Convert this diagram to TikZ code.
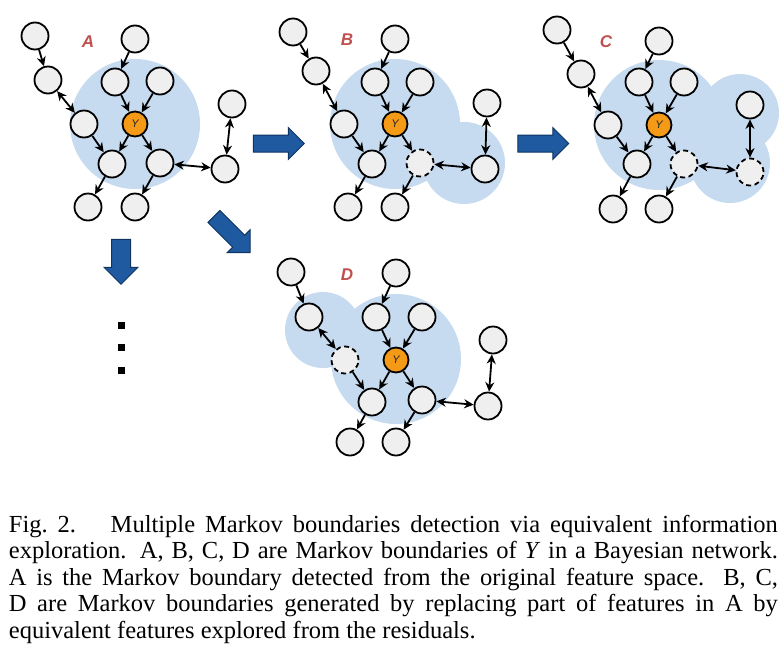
\documentclass[tikz,border=0pt]{standalone}
\usepackage{fontspec}
\setmainfont{Liberation Serif}
\newfontfamily\labelsans{Liberation Sans}
\usetikzlibrary{positioning,arrows.meta,shapes.arrows}

\definecolor{blanketblue}{HTML}{C6DBF0}
\definecolor{featgray}{HTML}{EFEFEF}
\definecolor{targetorange}{HTML}{F59A16}
\definecolor{labelred}{HTML}{C0504D}
\definecolor{arrowblue}{HTML}{1F5AA0}
\definecolor{arrowedge}{HTML}{0E3562}

\begin{document}
\begin{tikzpicture}[x=1pt,y=-1pt,on grid,line width=1.8pt,
  >={Stealth[length=9.5pt,width=9pt]},
  feat/.style={circle,draw,fill=featgray,line width=1.8pt,minimum size=27pt,inner sep=0pt},
  featgone/.style={feat,dash pattern=on 5pt off 3.5pt},
  target/.style={circle,draw,fill=targetorange,line width=1.8pt,minimum size=25pt,inner sep=0pt,
    font=\fontsize{11}{11}\labelsans\itshape,text=black!85},
  mblabel/.style={text=labelred,font=\fontsize{17}{17}\labelsans\bfseries\itshape},
  blanket/.style={fill=blanketblue},
  bigarrow/.style={single arrow,draw=arrowedge,fill=arrowblue,line width=1pt,
    inner xsep=0pt,inner ysep=8pt,single arrow head extend=7.5pt,minimum height=51pt},
  dotmark/.style={fill=black,minimum size=7pt,inner sep=0pt},
  figcap/.style={text width=769pt,align=justify,inner sep=0pt,
    font=\fontsize{24.5}{26.5}\selectfont}]
 \useasboundingbox (0,0) rectangle (784,651);

 % Markov blankets
 \fill[blanket] (135,124) circle[radius=65pt];
 \fill[blanket] (395,124) circle[radius=65pt];
 \fill[blanket] (464,163) circle[radius=41pt];
 \fill[blanket] (659,125) circle[radius=65pt];
 \fill[blanket] (740,113) circle[radius=39pt];
 \fill[blanket] (730,163) circle[radius=40pt];
 \fill[blanket] (396,359) circle[radius=65pt];
 \fill[blanket] (323,330) circle[radius=38pt];

 % network A
 \node[target] (yA) at (135,124) {Y};
 \node[feat, above left=88pt and 100pt of yA] (a1) {};
 \node[feat, above left=44pt and 87pt of yA] (a2) {};
 \node[feat, above=85pt of yA] (a3) {};
 \node[feat, above left=42pt and 20pt of yA] (a4) {};
 \node[feat, above right=43pt and 25pt of yA] (a5) {};
 \node[feat, left=51pt of yA] (a6) {};
 \node[feat, below left=40pt and 23pt of yA] (a7) {};
 \node[feat, below right=39pt and 25pt of yA] (a8) {};
 \node[feat, below left=83pt and 47pt of yA] (a9) {};
 \node[feat, below=83pt of yA] (a10) {};
 \node[feat, above right=20pt and 97pt of yA] (a11) {};
 \node[feat, below right=45pt and 90pt of yA] (a12) {};
 \node[mblabel, above left=82pt and 47pt of yA] (labA) {A};
 \path (a1) edge[->] (a2) (a2) edge[<->] (a6)
  (a3) edge[->] (a4) (a4) edge[->] (yA) (a5) edge[->] (yA)
  (a6) edge[->] (a7) (yA) edge[->] (a7) (yA) edge[->] (a8)
  (a7) edge[->] (a9) (a8) edge[->] (a10)
  (a8) edge[<->] (a12) (a12) edge[<->] (a11);

 % network B
 \node[target] (yB) at (395,124) {Y};
 \node[feat, above left=92pt and 102pt of yB] (b1) {};
 \node[feat, above left=53pt and 79pt of yB] (b2) {};
 \node[feat, above=85pt of yB] (b3) {};
 \node[feat, above left=42pt and 20pt of yB] (b4) {};
 \node[feat, above right=42pt and 25pt of yB] (b5) {};
 \node[feat, left=51pt of yB] (b6) {};
 \node[feat, below left=40pt and 23pt of yB] (b7) {};
 \node[featgone, below right=39pt and 25pt of yB] (b8) {};
 \node[feat, below left=83pt and 47pt of yB] (b9) {};
 \node[feat, below=83pt of yB] (b10) {};
 \node[feat, above right=21pt and 92pt of yB] (b11) {};
 \node[feat, below right=45pt and 90pt of yB] (b12) {};
 \node[mblabel, above left=84pt and 48pt of yB] (labB) {B};
 \path (b1) edge[->] (b2) (b2) edge[<->] (b6)
  (b3) edge[->] (b4) (b4) edge[->] (yB) (b5) edge[->] (yB)
  (b6) edge[->] (b7) (yB) edge[->] (b7) (yB) edge[->] (b8)
  (b7) edge[->] (b9) (b8) edge[->] (b10)
  (b8) edge[<->] (b12) (b12) edge[<->] (b11);

 % network C
 \node[target] (yC) at (659,125) {Y};
 \node[feat, above left=95pt and 102pt of yC] (c1) {};
 \node[feat, above left=51pt and 78pt of yC] (c2) {};
 \node[feat, above=84pt of yC] (c3) {};
 \node[feat, above left=43pt and 20pt of yC] (c4) {};
 \node[feat, above right=43pt and 25pt of yC] (c5) {};
 \node[feat, left=51pt of yC] (c6) {};
 \node[feat, below left=39pt and 22pt of yC] (c7) {};
 \node[featgone, below right=39pt and 25pt of yC] (c8) {};
 \node[feat, below left=84pt and 46pt of yC] (c9) {};
 \node[feat, below=84pt of yC] (c10) {};
 \node[feat, above right=20pt and 91pt of yC] (c11) {};
 \node[featgone, below right=47pt and 91pt of yC] (c12) {};
 \node[mblabel, above left=83pt and 53pt of yC] (labC) {C};
 \path (c1) edge[->] (c2) (c2) edge[<->] (c6)
  (c3) edge[->] (c4) (c4) edge[->] (yC) (c5) edge[->] (yC)
  (c6) edge[->] (c7) (yC) edge[->] (c7) (yC) edge[->] (c8)
  (c7) edge[->] (c9) (c8) edge[->] (c10)
  (c8) edge[<->] (c12) (c12) edge[<->] (c11);

 % network D
 \node[target] (yD) at (396,360) {Y};
 \node[feat, above left=88pt and 105pt of yD] (d1) {};
 \node[feat, above left=43pt and 87pt of yD] (d2) {};
 \node[feat, above=87pt of yD] (d3) {};
 \node[feat, above left=43pt and 20pt of yD] (d4) {};
 \node[feat, above right=43pt and 26pt of yD] (d5) {};
 \node[featgone, left=51pt of yD] (d6) {};
 \node[feat, below left=42pt and 24pt of yD] (d7) {};
 \node[feat, below right=40pt and 26pt of yD] (d8) {};
 \node[feat, below left=82pt and 46pt of yD] (d9) {};
 \node[feat, below=82pt of yD] (d10) {};
 \node[feat, above right=20pt and 97pt of yD] (d11) {};
 \node[feat, below right=46pt and 92pt of yD] (d12) {};
 \node[mblabel, above left=85pt and 49pt of yD] (labD) {D};
 \path (d1) edge[->] (d2) (d2) edge[<->] (d6)
  (d3) edge[->] (d4) (d4) edge[->] (yD) (d5) edge[->] (yD)
  (d6) edge[->] (d7) (yD) edge[->] (d7) (yD) edge[->] (d8)
  (d7) edge[->] (d9) (d8) edge[->] (d10)
  (d8) edge[<->] (d12) (d12) edge[<->] (d11);

 % block arrows between the boundaries
 \node[bigarrow] (toB) at (274.5,143.5) {};
 \node[bigarrow] (toC) at (539,143.5) {};
 \node[bigarrow, rotate=-45] (toD) at (229,231.5) {};
 \node[bigarrow, rotate=-90, minimum height=45pt, inner ysep=9pt] (more) at (121,257) {};
 \node[dotmark] (dot1) at (121,325) {};
 \node[dotmark] (dot2) at (121,347.5) {};
 \node[dotmark] (dot3) at (121,370) {};

 % caption
 \node[figcap, anchor=north west] (cap) at (8,514) {Fig.~2.\hspace{0.6em} Multiple Markov boundaries detection via equivalent information\linebreak
  exploration. A, B, C, D are Markov boundaries of \textit{Y} in a Bayesian network.\linebreak
  A is the Markov boundary detected from the original feature space. B, C,\linebreak
  D are Markov boundaries generated by replacing part of features in A by\linebreak
  equivalent features explored from the residuals.};
\end{tikzpicture}
\end{document}
